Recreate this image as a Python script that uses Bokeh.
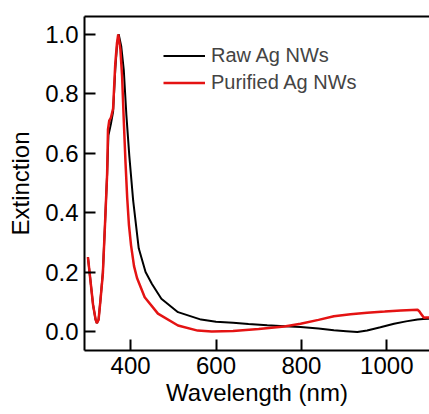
from bokeh.plotting import figure
from bokeh.models import Range1d, LinearAxis, FixedTicker, Legend, LegendItem
from bokeh.embed import file_html
from bokeh.resources import INLINE

# Extinction spectra of silver nanowires (normalised)
wl_raw = [300, 306, 312, 318, 321, 325, 329, 335, 340, 345, 348, 351, 354, 359, 364, 368, 372,
          378, 384, 390, 397, 406, 419, 435, 450, 472, 511, 565, 600,
          640, 676, 720, 760, 798, 840, 876, 905, 931, 954, 985, 1017, 1045, 1072, 1085, 1100]
ext_raw = [0.25, 0.17, 0.09, 0.04, 0.028, 0.04, 0.1, 0.2, 0.36, 0.53, 0.66, 0.68, 0.70, 0.74, 0.88, 0.96, 1.0,
           0.96, 0.88, 0.73, 0.59, 0.44, 0.28, 0.2, 0.16, 0.11, 0.065, 0.04, 0.033,
           0.029, 0.025, 0.021, 0.018, 0.015, 0.01, 0.004, 0.001, -0.002, 0.003, 0.014, 0.026, 0.034, 0.04, 0.042, 0.043]

wl_pur = [300, 306, 312, 318, 321, 325, 329, 335, 340, 345, 347, 350, 354, 359, 364, 368, 371,
          376, 380, 384, 388, 392, 396, 401, 408, 415, 433, 464, 511, 557, 590, 640, 700,
          760, 798, 840, 876, 915, 954, 995, 1033, 1072, 1076, 1080, 1087, 1092, 1100]
ext_pur = [0.25, 0.17, 0.09, 0.04, 0.028, 0.04, 0.1, 0.195, 0.36, 0.53, 0.68, 0.71, 0.72, 0.75, 0.90, 0.97, 1.0,
           0.95, 0.86, 0.71, 0.57, 0.45, 0.36, 0.29, 0.22, 0.18, 0.115, 0.06, 0.02, 0.003, 0.0, 0.002, 0.008,
           0.017, 0.026, 0.039, 0.051, 0.058, 0.063, 0.067, 0.071, 0.073, 0.068, 0.06, 0.046, 0.047, 0.047]

x_ticks = [400, 600, 800, 1000]
y_ticks = [0.0, 0.2, 0.4, 0.6, 0.8, 1.0]

FONT = "Liberation Sans"

p = figure(width=429, height=414, output_backend="svg", toolbar_location=None,
           x_range=Range1d(292, 1100), y_range=Range1d(-0.064, 1.06),
           min_border_left=84, min_border_right=0, min_border_top=16, min_border_bottom=64)
p.outline_line_color = None
p.xgrid.visible = False
p.ygrid.visible = False
p.background_fill_color = "white"

r_raw = p.line(wl_raw, ext_raw, line_color="black", line_width=2)
r_pur = p.line(wl_pur, ext_pur, line_color="#e41313", line_width=2.5)

for ax, ticks in ((p.xaxis[0], x_ticks), (p.yaxis[0], y_ticks)):
    ax.ticker = FixedTicker(ticks=ticks)
    ax.axis_line_width = 2
    ax.major_tick_line_width = 2
    ax.major_tick_in = 11
    ax.major_tick_out = 0
    ax.minor_tick_line_color = None
    ax.major_label_text_font = FONT
    ax.major_label_text_font_size = "24px"
    ax.major_label_text_color = "black"
    ax.axis_label_text_font = FONT
    ax.axis_label_text_font_size = "24px"
    ax.axis_label_text_font_style = "normal"
    ax.axis_label_text_color = "black"

p.xaxis.axis_label = "Wavelength (nm)"
p.yaxis.axis_label = "Extinction"
p.xaxis.major_label_standoff = 6
p.xaxis.axis_label_standoff = 2
p.yaxis.major_label_standoff = 6
p.yaxis.axis_label_standoff = 8
p.yaxis.major_label_overrides = {t: f"{t:.1f}" for t in y_ticks}

# top frame line
top = LinearAxis(ticker=FixedTicker(ticks=[]), axis_line_width=2,
                 major_tick_in=0, major_tick_out=0, minor_tick_line_color=None,
                 major_label_text_font_size="0px")
p.add_layout(top, "above")

legend = Legend(items=[LegendItem(label="Raw Ag NWs", renderers=[r_raw]),
                       LegendItem(label="Purified Ag NWs", renderers=[r_pur])],
                location=(79, 254), border_line_color=None, background_fill_alpha=0,
                padding=0, margin=0, spacing=0, glyph_width=42, glyph_height=27,
                label_height=27, label_standoff=6,
                label_text_font=FONT, label_text_font_size="20px")
p.add_layout(legend)

open("out.html", "w").write(file_html(p, INLINE))
